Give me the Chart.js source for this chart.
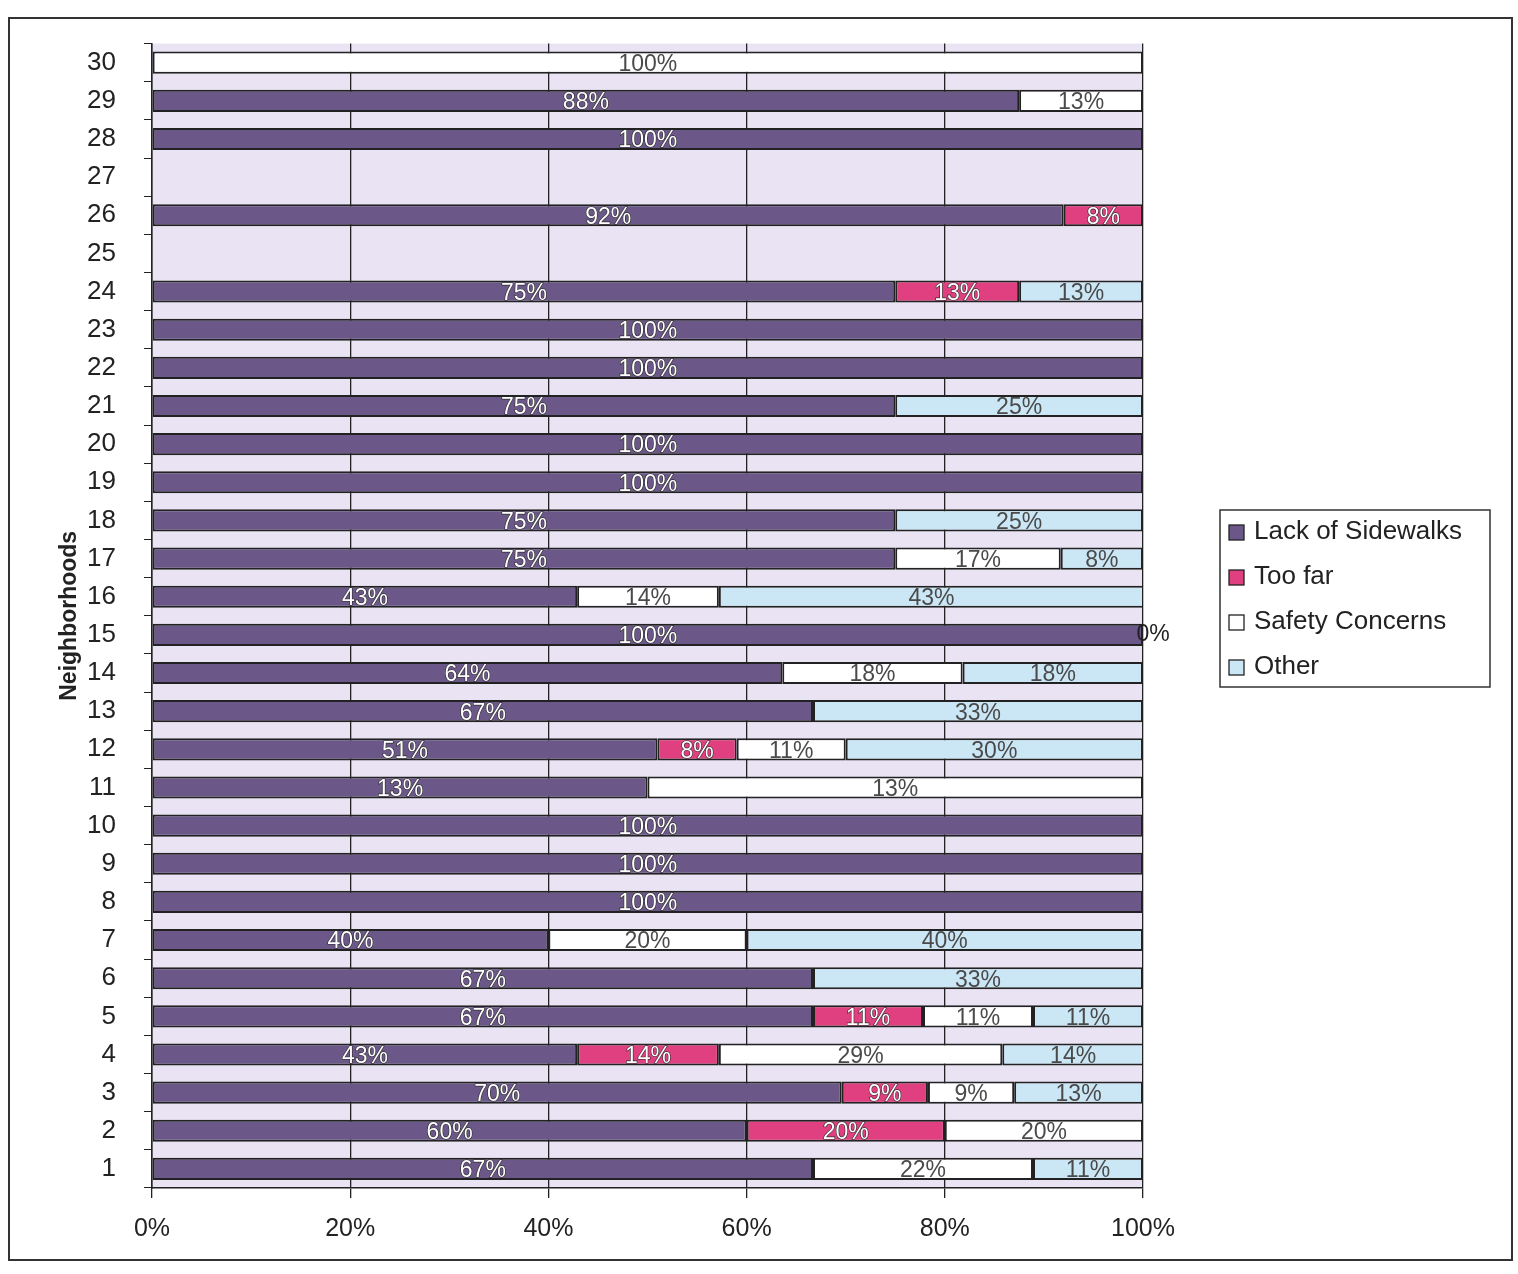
<!DOCTYPE html>
<html>
<head>
<meta charset="utf-8">
<script src="https://cdn.jsdelivr.net/npm/chart.js@4.4.1/dist/chart.umd.min.js"></script>
<style>
  html, body { margin: 0; padding: 0; background: #fff; }
  #wrap { width: 1518px; height: 1274px; position: relative; }
</style>
</head>
<body>
<div id="wrap"><canvas id="chart" width="1518" height="1274"></canvas></div>
<script>
// neighborhoods 1..30 (bottom to top)
const NEIGHBORHOODS = ['1','2','3','4','5','6','7','8','9','10','11','12','13','14','15',
    '16','17','18','19','20','21','22','23','24','25','26','27','28','29','30'];

const SERIES_NAMES = ['Lack of Sidewalks', 'Too far', 'Safety Concerns', 'Other'];

const lackOfSidewalks = [66.7, 60, 69.6, 42.9, 66.7, 66.7, 40, 100, 100, 100, 50, 51, 66.7, 63.6, 100,
    42.9, 75, 75, 100, 100, 75, 100, 100, 75, 0, 92, 0, 100, 87.5, 0];
const tooFar = [0, 20, 8.7, 14.3, 11.1, 0, 0, 0, 0, 0, 0, 8, 0, 0, 0,
    0, 0, 0, 0, 0, 0, 0, 0, 12.5, 0, 8, 0, 0, 0, 0];
const safetyConcerns = [22.2, 20, 8.7, 28.6, 11.1, 0, 20, 0, 0, 0, 50, 11, 0, 18.2, 0,
    14.3, 16.7, 0, 0, 0, 0, 0, 0, 0, 0, 0, 0, 0, 12.5, 100];
const other = [11.1, 0, 13, 14.3, 11.1, 33.3, 40, 0, 0, 0, 0, 30, 33.3, 18.2, 0,
    42.9, 8.3, 25, 0, 0, 25, 0, 0, 12.5, 0, 0, 0, 0, 0, 0];

// labels printed differently from the values on the original
const labelOverrides = { '11-0': '13%', '11-2': '13%', '15-3': '0%' };

const X_TICKS = [0, 20, 40, 60, 80, 100];

const SERIES_COLORS = ['#6b5888', '#e0407f', '#ffffff', '#cbe7f6'];
const PLOT_BG = '#e9e3f3';
const INK = '#222222';

function createDataSet(label, data, color) {
    return {
        label: label,
        data: data,
        backgroundColor: color,
        borderColor: INK,
        borderWidth: 2,
        borderSkipped: false,
        barPercentage: 0.58,
        categoryPercentage: 1.0
    };
}

const datasets = [lackOfSidewalks, tooFar, safetyConcerns, other].map((d, i) =>
    createDataSet(SERIES_NAMES[i], d, SERIES_COLORS[i]));

const frameAndBackground = {
    id: 'frameAndBackground',
    beforeDraw(chart) {
        const ctx = chart.ctx;
        const a = chart.chartArea;
        ctx.save();
        ctx.fillStyle = PLOT_BG;
        ctx.fillRect(a.left, a.top, a.right - a.left, a.bottom - a.top);
        ctx.strokeStyle = '#333';
        ctx.lineWidth = 2;
        ctx.strokeRect(9, 18, 1503, 1242);
        ctx.restore();
    }
};

const segmentLabels = {
    id: 'segmentLabels',
    afterDatasetsDraw(chart) {
        const ctx = chart.ctx;
        ctx.save();
        ctx.font = '23px "Liberation Sans", Arial, sans-serif';
        ctx.textAlign = 'center';
        ctx.textBaseline = 'middle';
        chart.data.datasets.forEach((ds, si) => {
            const meta = chart.getDatasetMeta(si);
            const light = si >= 2;
            meta.data.forEach((bar, i) => {
                const key = NEIGHBORHOODS[i] + '-' + si;
                const v = ds.data[i];
                let text = labelOverrides[key];
                if (!text) {
                    if (!v) return;
                    text = Math.round(v) + '%';
                }
                if (!v) {
                    ctx.fillStyle = INK;
                    ctx.fillText(text, bar.x + 10, bar.y);
                    return;
                }
                const x = (bar.x + bar.base) / 2;
                if (light) {
                    ctx.fillStyle = '#4a4a4a';
                    ctx.fillText(text, x, bar.y + 2);
                } else {
                    ctx.lineWidth = 1.2;
                    ctx.strokeStyle = '#2a2a2a';
                    ctx.strokeText(text, x, bar.y + 2);
                    ctx.fillStyle = '#ffffff';
                    ctx.fillText(text, x, bar.y + 2);
                }
            });
        });
        ctx.restore();
    }
};

const boxedLegend = {
    id: 'boxedLegend',
    afterDraw(chart) {
        const ctx = chart.ctx;
        const left = 1220, top = 510, w = 270, h = 177;
        ctx.save();
        ctx.fillStyle = '#fff';
        ctx.fillRect(left, top, w, h);
        ctx.strokeStyle = '#333';
        ctx.lineWidth = 1.5;
        ctx.strokeRect(left, top, w, h);
        ctx.font = '26px "Liberation Sans", Arial, sans-serif';
        ctx.textBaseline = 'middle';
        ctx.textAlign = 'left';
        chart.data.datasets.forEach((ds, i) => {
            const y = top + 22 + i * 45;
            ctx.fillStyle = ds.backgroundColor;
            ctx.fillRect(left + 9, y - 7, 15, 15);
            ctx.strokeStyle = INK;
            ctx.lineWidth = 1.3;
            ctx.strokeRect(left + 9, y - 7, 15, 15);
            ctx.fillStyle = INK;
            ctx.fillText(ds.label, left + 34, y);
        });
        ctx.restore();
    }
};

var ctx = document.getElementById('chart').getContext('2d');
new Chart(ctx, {
    type: 'bar',
    data: { labels: NEIGHBORHOODS, datasets: datasets },
    plugins: [frameAndBackground, segmentLabels, boxedLegend],
    options: {
        indexAxis: 'y',
        responsive: false,
        animation: false,
        layout: { padding: { left: 0, top: 42, right: 375, bottom: 0 } },
        plugins: {
            legend: { display: false },
            tooltip: { enabled: false }
        },
        scales: {
            x: {
                stacked: true,
                min: 0,
                max: 100,
                afterBuildTicks(scale) {
                    scale.ticks = X_TICKS.map(v => ({ value: v }));
                },
                afterFit(scale) { scale.height = 86; },
                ticks: {
                    callback: v => v + '%',
                    color: INK,
                    padding: 16,
                    font: { family: '"Liberation Sans", Arial, sans-serif', size: 25 }
                },
                grid: { color: INK, lineWidth: 1.3, tickLength: 10 },
                border: { color: INK, width: 1.5 }
            },
            y: {
                stacked: true,
                reverse: true,
                afterFit(scale) { scale.width = 152; },
                title: {
                    display: true,
                    text: 'Neighborhoods',
                    color: INK,
                    padding: { top: 56, bottom: 0 },
                    font: { family: '"Liberation Sans", Arial, sans-serif', size: 23, weight: 'bold' }
                },
                ticks: {
                    color: INK,
                    padding: 28,
                    autoSkip: false,
                    font: { family: '"Liberation Sans", Arial, sans-serif', size: 26 }
                },
                grid: { offset: true, drawOnChartArea: false, color: INK, tickLength: 8 },
                border: { color: INK, width: 1.5 }
            }
        }
    }
});
</script>
</body>
</html>
